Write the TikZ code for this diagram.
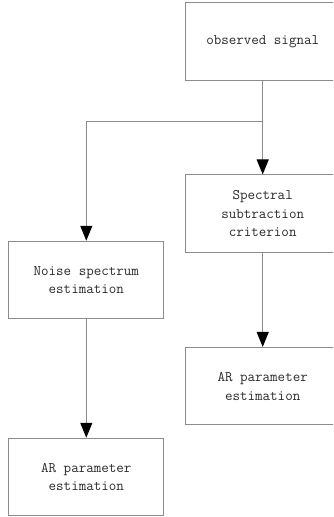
\documentclass[tikz,border=0pt]{standalone}
\usepackage{fontspec}
\usetikzlibrary{arrows.meta}
\definecolor{linegray}{HTML}{8C8C8C}
\definecolor{textgray}{HTML}{2A2A2A}
\tikzset{
  flowbox/.style={draw=linegray, line width=1pt, minimum width=155pt, minimum height=77.5pt,
    align=center, inner sep=0pt, text=textgray,
    font=\ttfamily\fontsize{14.6pt}{18.6pt}\selectfont},
  flowarrow/.style={draw=linegray, line width=1pt,
    -{Triangle[width=12pt,length=15pt,fill=black,color=black]}},
  flowline/.style={draw=linegray, line width=1pt}
}
\begin{document}
\begin{tikzpicture}[x=1pt,y=1pt]
\useasboundingbox (0,0) rectangle (333,-517);
\begin{scope}
\clip (0,0) rectangle (333,-517);
\node[flowbox] (obs) at (262.7,-41.5) {observed signal};
\node[flowbox] (spec) at (262.7,-213.7) {Spectral\\subtraction\\criterion};
\node[flowbox] (noise) at (86.3,-280) {Noise spectrum\\estimation};
\node[flowbox] (ar2) at (262.7,-386.2) {AR parameter\\estimation};
\node[flowbox] (ar1) at (86.3,-477) {AR parameter\\estimation};
\coordinate (branch) at (262.7,-121.7);
\coordinate (corner) at (86.3,-121.7);
\draw[flowarrow] (obs.south) -- (spec.north);
\draw[flowline] (branch) -- (corner);
\draw[flowarrow] (corner) -- (noise.north);
\draw[flowarrow] (spec.south) -- (ar2.north);
\draw[flowarrow] (noise.south) -- (ar1.north);
\end{scope}
\end{tikzpicture}
\end{document}
